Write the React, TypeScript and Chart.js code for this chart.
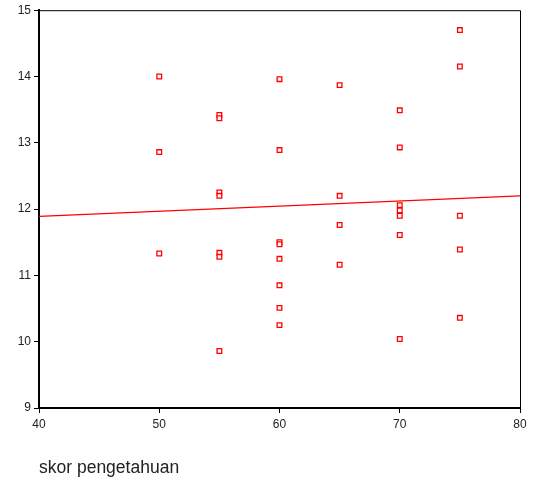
import React, { useEffect, useRef } from "react";
import { Chart, registerables } from "chart.js";

Chart.register(...registerables);

const xValues = [
  50, 50, 50,
  55, 55, 55, 55, 55, 55, 55,
  60, 60, 60, 60, 60, 60, 60, 60,
  65, 65, 65, 65,
  70, 70, 70, 70, 70, 70, 70,
  75, 75, 75, 75, 75,
];
const yValues = [
  14.0, 12.86, 11.33,
  13.42, 13.37, 12.25, 12.2, 11.34, 11.28, 9.86,
  13.96, 12.89, 11.5, 11.47, 11.25, 10.85, 10.51, 10.25,
  13.87, 12.2, 11.76, 11.16,
  13.49, 12.93, 12.06, 11.98, 11.9, 11.61, 10.04,
  14.7, 14.15, 11.9, 11.39, 10.36,
];
const fitX = [40, 80];
const fitY = [11.89, 12.2];
const xTicks = [40, 50, 60, 70, 80];
const yTicks = [9, 10, 11, 12, 13, 14, 15];
const xTitle = "skor pengetahuan";

const FONT = "'Liberation Sans', Arial, sans-serif";

const frame = {
  id: "frame",
  afterDraw(chart: any) {
    const { ctx, chartArea } = chart;
    ctx.save();
    ctx.strokeStyle = "#000";
    ctx.lineWidth = 1;
    ctx.beginPath();
    ctx.moveTo(chartArea.left, chartArea.top + 0.5);
    ctx.lineTo(chartArea.right + 0.5, chartArea.top + 0.5);
    ctx.lineTo(chartArea.right + 0.5, chartArea.bottom);
    ctx.stroke();
    ctx.restore();
  },
};

export default function App() {
  const ref = useRef<HTMLCanvasElement>(null);
  useEffect(() => {
    if (!ref.current) return;
    const chart = new Chart(ref.current, {
      type: "scatter",
      data: {
        datasets: [
          {
            type: "line",
            data: fitX.map((x, i) => ({ x, y: fitY[i] })),
            borderColor: "#ff0000",
            borderWidth: 1.2,
            pointRadius: 0,
            fill: false,
          } as any,
          {
            data: xValues.map((x, i) => ({ x, y: yValues[i] })),
            pointStyle: "rect",
            pointRadius: 3.3,
            borderWidth: 1.3,
            borderColor: "#ff0000",
            backgroundColor: "#ffffff",
          },
        ],
      },
      options: {
        animation: false,
        responsive: true,
        maintainAspectRatio: false,
        layout: { padding: { left: 0, top: 10, right: 22, bottom: 0 } },
        plugins: { legend: { display: false }, tooltip: { enabled: false } },
        scales: {
          x: {
            type: "linear",
            min: 40,
            max: 80,
            afterBuildTicks: (s: any) => {
              s.ticks = xTicks.map((v) => ({ value: v }));
            },
            afterFit: (s: any) => {
              s.height = 74;
            },
            grid: { drawOnChartArea: false, drawTicks: true, tickLength: 5, color: "#000" },
            border: { display: true, color: "#000", width: 2 },
            ticks: { color: "#222", font: { family: FONT, size: 12 }, padding: 4, maxRotation: 0 },
            title: {
              display: true,
              text: xTitle,
              align: "start",
              color: "#222",
              font: { family: FONT, size: 17.5 },
              padding: { top: 3, bottom: 3 },
            },
          },
          y: {
            type: "linear",
            min: 9,
            max: 15,
            afterBuildTicks: (s: any) => {
              s.ticks = yTicks.map((v) => ({ value: v }));
            },
            afterFit: (s: any) => {
              s.width = 39;
            },
            grid: { drawOnChartArea: false, drawTicks: true, tickLength: 5, color: "#000" },
            border: { display: true, color: "#000", width: 2 },
            ticks: { color: "#222", font: { family: FONT, size: 12 }, padding: 3 },
          },
        },
      },
      plugins: [frame],
    });
    return () => chart.destroy();
  }, []);
  return (
    <div style={{ position: "absolute", left: 0, top: 0, width: 542, height: 482, background: "#fff" }}>
      <canvas ref={ref} />
    </div>
  );
}
